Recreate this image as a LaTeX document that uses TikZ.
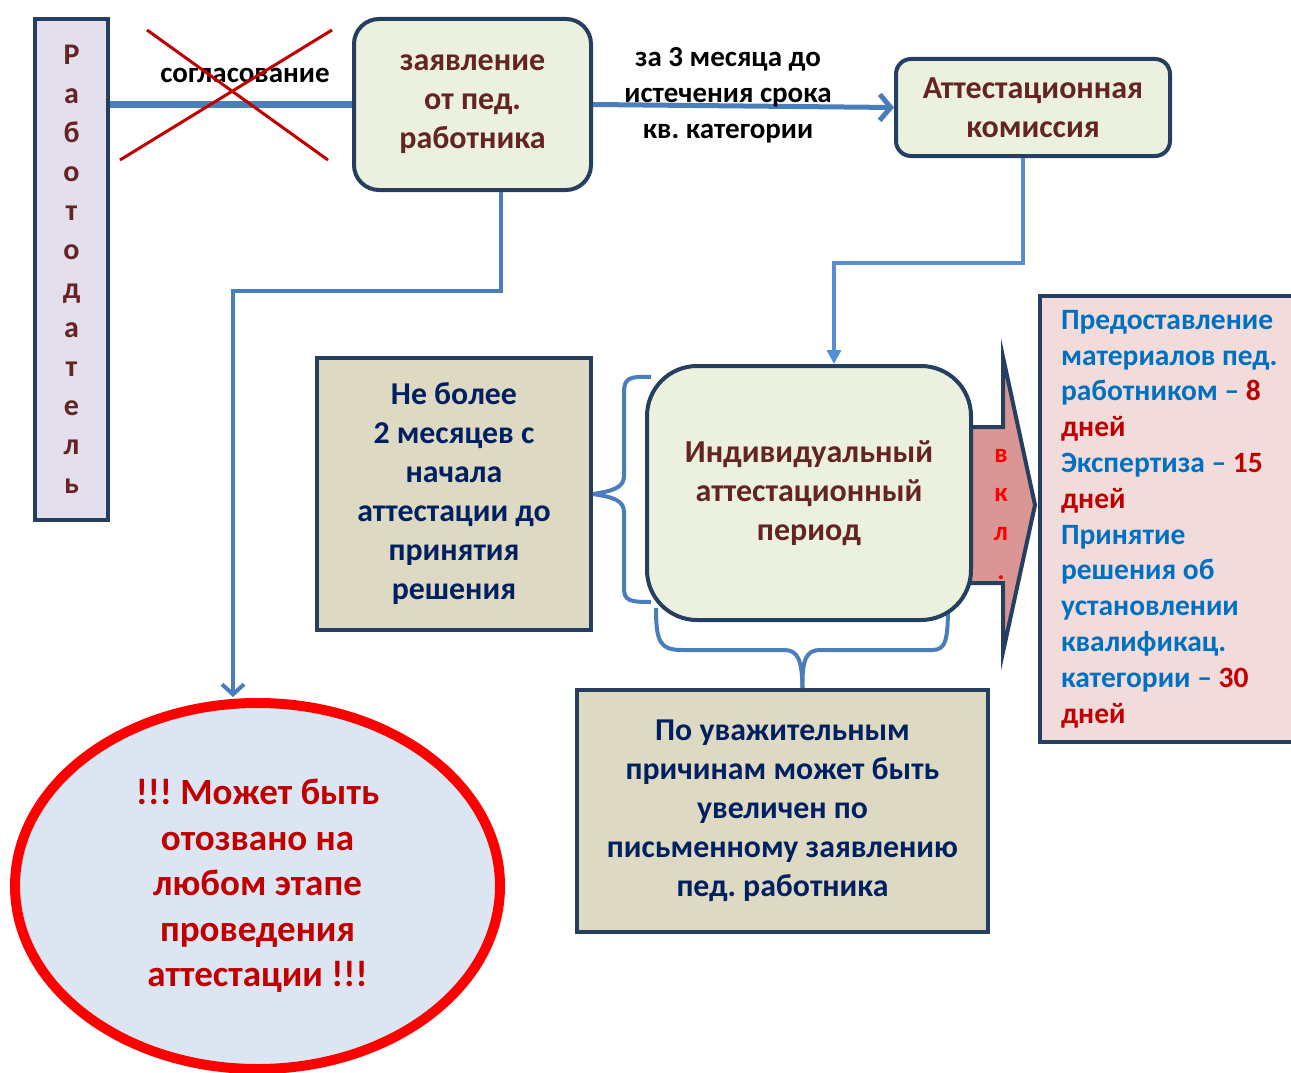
\documentclass[tikz,border=0pt]{standalone}
\usepackage{fontspec}
\setmainfont{Carlito}
\usetikzlibrary{arrows.meta,shapes.geometric}
\frenchspacing

\definecolor{navy}{HTML}{243F60}
\definecolor{brownred}{HTML}{632423}
\definecolor{linkblue}{HTML}{4A7EBB}
\definecolor{lightlink}{HTML}{558ED5}
\definecolor{greenfill}{HTML}{EBF1DE}
\definecolor{tanfill}{HTML}{DDD9C3}
\definecolor{lilacfill}{HTML}{E4DFEC}
\definecolor{pinkfill}{HTML}{F2DCDB}
\definecolor{arrowpink}{HTML}{D99694}
\definecolor{darkred}{HTML}{C00000}
\definecolor{textnavy}{HTML}{002060}
\definecolor{textblue}{HTML}{0070C0}
\definecolor{ovalfill}{HTML}{DCE6F2}

\begin{document}
\begin{tikzpicture}[x=1pt,y=-1pt,
    greenbox/.style={draw=navy,line width=4pt,fill=greenfill,text=brownred,align=center,
      font=\fontsize{32}{39}\selectfont\bfseries,inner sep=0pt},
    tanbox/.style={draw=navy,line width=4pt,fill=tanfill,text=textnavy,align=center,
      font=\fontsize{31.8}{39}\selectfont\bfseries,inner sep=0pt},
    link/.style={linkblue,line width=4pt},
    plain/.style={font=\fontsize{29}{36}\selectfont\bfseries,align=center}]

        \useasboundingbox (0,0) rectangle (1291,1073);

        % Boxes
        \node[draw=navy,line width=4pt,fill=lilacfill,text=brownred,align=center,
          font=\fontsize{30}{39}\selectfont\bfseries,minimum width=73pt,minimum height=501pt]
          (emp) at (71.5,269.5) {Р\\а\\б\\о\\т\\о\\д\\а\\т\\е\\л\\ь};
        \node[greenbox,rounded corners=25pt,minimum width=237pt,minimum height=171pt]
          (zayav) at (472.5,104.5) {заявление\\от пед.\\работника};
        \node[greenbox,rounded corners=15pt,minimum width=274pt,minimum height=97pt]
          (kom) at (1033,107.5) {Аттестационная\\комиссия};
        \node[tanbox,minimum width=274pt,minimum height=272pt]
          (nebolee) at (454,494) {Не более\\2 месяцев с\\начала\\аттестации до\\принятия\\решения};
        \node[tanbox,minimum width=411pt,minimum height=242pt]
          (prich) at (782.5,811) {По уважительным\\причинам может быть\\увеличен по\\письменному заявлению\\пед. работника};
        \node[draw=navy,line width=4pt,fill=pinkfill,anchor=north west,text width=232pt,
          inner xsep=21pt,minimum height=446pt,align=flush left,
          font=\fontsize{29.5}{35.8}\selectfont\bfseries,text=textblue]
          (pink) at (1038,294) {Предоставление\\материалов пед.\\работником – {\color{darkred}8}\\{\color{darkred}дней}\\Экспертиза – {\color{darkred}15}\\{\color{darkred}дней}\\Принятие\\решения об\\установлении\\квалификац.\\категории – {\color{darkred}30}\\{\color{darkred}дней}};
        \node[ellipse,draw=red,line width=10pt,fill=ovalfill,text=darkred,align=center,
          font=\fontsize{37}{45.5}\selectfont\bfseries,minimum width=485pt,minimum height=366pt]
          (ell) at (257.5,886) {!!! Может быть\\отозвано на\\любом этапе\\проведения\\аттестации !!!};

        % Big arrow into the pink box
        \draw[navy,line width=4pt,fill=arrowpink,line join=miter]
          (950,427) -- (1003,427) -- (1003,357) -- (1035,505) -- (1003,652) -- (1003,583) -- (950,583);
        \node[text=red,align=center,font=\fontsize{27}{39}\selectfont\bfseries]
          (vkl) at (1001,515) {в\\к\\л\\.};

        % Braces
        \draw[link] (651,377) .. controls (630,376) and (624,378) .. (624,392) -- (624,476)
          .. controls (624,488) and (612,491) .. (nebolee.east);
        \draw[link] (nebolee.east) .. controls (612,497) and (624,500) .. (624,512) -- (624,588)
          .. controls (624,601) and (630,602) .. (651,602);
        \draw[link] (656,608) .. controls (656,642) and (660,650) .. (682,650) -- (784,650)
          .. controls (798,650) and (802,660) .. ([xshift=20pt]prich.north);
        \draw[link] ([xshift=20pt]prich.north) .. controls (802,660) and (806,650) .. (820,650) -- (932,650)
          .. controls (946,650) and (948,640) .. (948,604);

        % Individual period box on top of the brace ends
        \node[greenbox,rounded corners=50pt,minimum width=324pt,minimum height=254pt]
          (indiv) at (809,493) {Индивидуальный\\аттестационный\\период};

        % Connectors
        \coordinate (wd) at (233,697);
        \draw[linkblue,line width=7pt] (emp.east |- zayav.west) -- (zayav.west);
        \node[plain] (soglas) at (245,75) {согласование};
        \draw[darkred,line width=3pt] (147,30) -- (328,160);
        \draw[darkred,line width=3pt] (120,160) -- (332,30);
        \draw[link,line width=5pt,-{Straight Barb[length=11pt,width=26pt]}] (zayav.east) -- (kom.west);
        \node[plain] (srok) at (728,95) {за 3 месяца до\\истечения срока\\кв. категории};
        \draw[link,-{Straight Barb[length=10pt,width=22pt]}] ([xshift=28pt]zayav.south) -- ++(0,99) -| (wd);
        \draw[lightlink,line width=4pt,-{Triangle[length=14pt,width=14pt]}]
          ([xshift=-10pt]kom.south) -- ++(0,105) -| ([xshift=25pt]indiv.north);

\end{tikzpicture}
\end{document}
